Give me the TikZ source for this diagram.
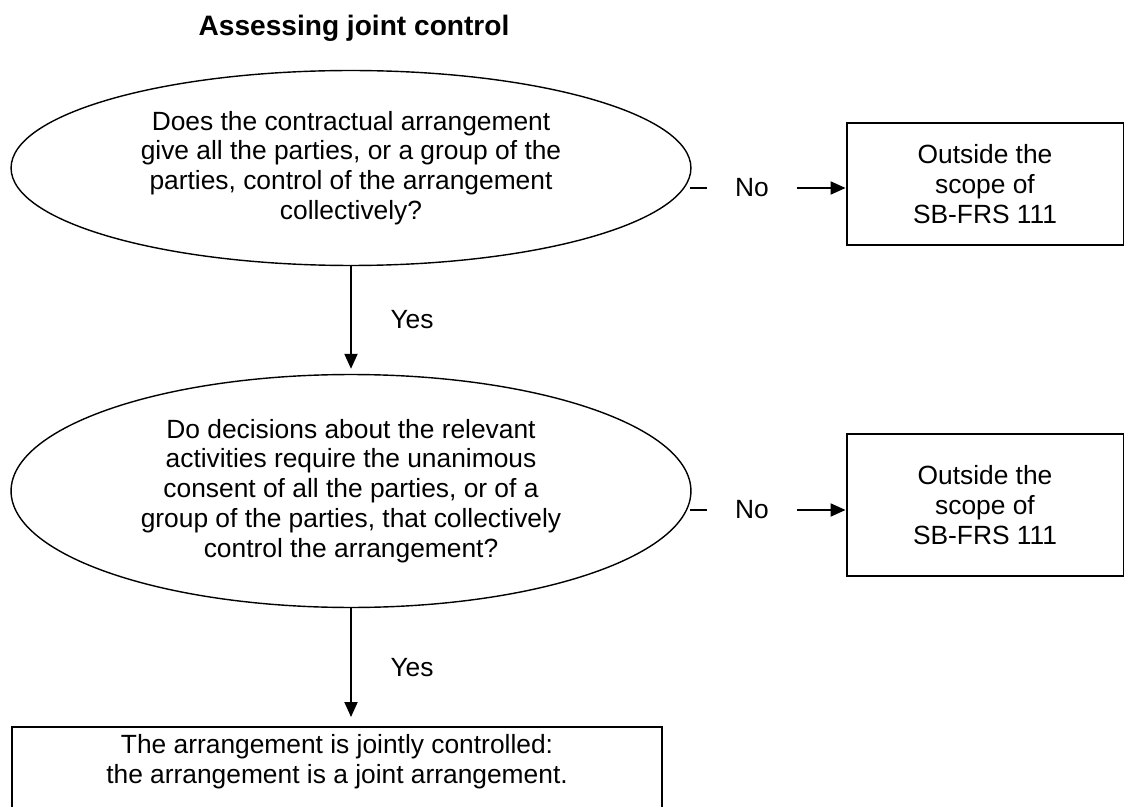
\documentclass[tikz,border=0pt]{standalone}
\usepackage{fontspec}
\setmainfont{Liberation Sans}
\usepackage{tikz}
\usetikzlibrary{shapes.geometric}
\usetikzlibrary{arrows.meta}

\begin{document}
\begin{tikzpicture}[x=0.02cm,y=-0.02cm,
    every node/.style={font=\fontsize{15}{17}\selectfont},
    question/.style={draw,ellipse,line width=0.8pt,inner sep=0pt,minimum width=13.6cm,align=center},
    outbox/.style={draw,rectangle,line width=1.1pt,minimum width=5.54cm,align=center},
    answer/.style={inner sep=2pt},
    arr/.style={line width=1.1pt,-{Triangle[length=0.3cm,width=0.26cm]}}
    ]
\clip (0,0) rectangle (1125,807);
\node[font=\fontsize{16}{19}\selectfont\bfseries] (title) at (354,28) {Assessing joint control};
\node[question,minimum height=3.9cm] (q1) at (351,168) {Does the contractual arrangement\\give all the parties, or a group of the\\parties, control of the arrangement\\collectively?};
\node[question,minimum height=4.66cm] (q2) at (351,491) {Do decisions about the relevant\\activities require the unanimous\\consent of all the parties, or of a\\group of the parties, that collectively\\control the arrangement?};
\node[outbox,minimum height=2.44cm] (out1) at (985,184) {Outside the\\scope of\\SB-FRS 111};
\node[outbox,minimum height=2.84cm] (out2) at (985,505) {Outside the\\scope of\\SB-FRS 111};
\node[draw,line width=1.1pt,minimum width=13cm,minimum height=4cm,anchor=north] (final) at (337,726) {};
\node[align=center] (finaltext) at (337,762) {The arrangement is jointly controlled:\\the arrangement is a joint arrangement.};
\node[answer,inner xsep=0.55cm] (no1) at (752,188) {No};
\node[answer,inner xsep=0.55cm] (no2) at (752,510) {No};
\node[answer] (yes1) at (412,320) {Yes};
\node[answer] (yes2) at (412,668) {Yes};
\coordinate (s1) at (690,188);
\coordinate (s2) at (690,510);
\draw[line width=1.1pt] (s1) -- (no1.west);
\draw[arr] (no1.east) -- (no1.east -| out1.west);
\draw[line width=1.1pt] (s2) -- (no2.west);
\draw[arr] (no2.east) -- (no2.east -| out2.west);
\draw[arr,shorten >=0.1cm] (q1.south) -- (q2.north);
\draw[arr,shorten >=0.18cm] (q2.south) -- (q2.south |- final.north);
\end{tikzpicture}
\end{document}
